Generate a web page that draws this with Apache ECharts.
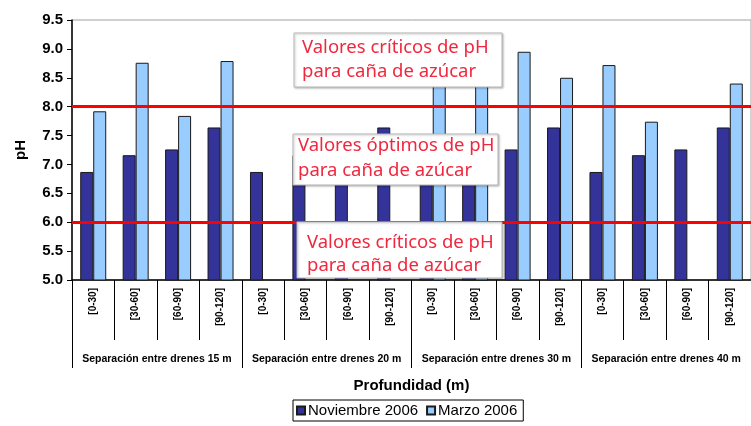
<!DOCTYPE html>
<html>
<head>
	<meta charset="utf-8">
	<title>pH</title>
	<style type="text/css">
		body{
			margin: 0px;
			background: #fff;
		}
		.chart{
			width: 751px;
			height: 426px;
		}
	</style>
	<script type="text/javascript" src="https://cdn.jsdelivr.net/npm/echarts@6/dist/echarts.min.js"></script>
</head>
<body>
	<div id="chart" class="chart"></div>
	<script type="text/javascript">
		var depths = ['[0-30]', '[30-60]', '[60-90]', '[90-120]',
			'[0-30]', '[30-60]', '[60-90]', '[90-120]',
			'[0-30]', '[30-60]', '[60-90]', '[90-120]',
			'[0-30]', '[30-60]', '[60-90]', '[90-120]'];
		var groups = ['Separación entre drenes 15 m', 'Separación entre drenes 20 m',
			'Separación entre drenes 30 m', 'Separación entre drenes 40 m'];
		var noviembre = [6.87, 7.16, 7.26, 7.64, 6.87, 7.16, 7.26, 7.64,
			6.87, 7.16, 7.26, 7.64, 6.87, 7.16, 7.26, 7.64];
		var marzo = [7.92, 8.76, 7.84, 8.79, null, null, null, null,
			8.5, 8.6, 8.95, 8.5, 8.72, 7.74, null, 8.4];
		var limits = [8.0, 6.0];
		var notes = ['Valores críticos de pH\npara caña de azúcar',
			'Valores óptimos de pH\npara caña de azúcar',
			'Valores críticos de pH\npara caña de azúcar'];

		var font = 'Liberation Sans, Arial, sans-serif';

		// cuadro de texto encima de las barras
		function noteBox(text, x, y, w, h, tx, ty, lh){
			return {
				type: 'group',
				z: 100,
				children: [{
					type: 'rect',
					z: 100,
					shape: {x: x, y: y, width: w, height: h},
					style: {
						fill: '#fff',
						stroke: '#b8b8b8',
						lineWidth: 1,
						shadowBlur: 2,
						shadowOffsetX: 1,
						shadowOffsetY: 1,
						shadowColor: 'rgba(0,0,0,0.25)'
					}
				}, {
					type: 'text',
					z: 101,
					style: {
						x: tx,
						y: ty,
						text: text,
						fill: '#f0283f',
						font: '18.5px "Noto Sans", sans-serif',
						lineHeight: lh,
						verticalAlign: 'top'
					}
				}]
			};
		}

		var chart = echarts.init(document.getElementById('chart'));
		chart.setOption({
			animation: false,
			backgroundColor: '#fff',
			color: ['#333399', '#99ccff'],
			grid: {
				left: 72,
				right: -10,
				top: 20,
				bottom: 146,
				show: true,
				borderColor: '#a0a0a0',
				borderWidth: 1
			},
			legend: {
				data: ['Noviembre 2006', 'Marzo 2006'],
				left: 293,
				top: 400,
				padding: [3, 6, 3, 3],
				itemGap: 8,
				itemWidth: 8,
				itemHeight: 8,
				borderColor: '#000',
				borderWidth: 1,
				icon: 'rect',
				textStyle: {
					fontFamily: font,
					fontSize: 15,
					color: '#000',
					padding: [0, 0, 0, -2]
				}
			},
			yAxis: {
				type: 'value',
				min: 5,
				max: 9.5,
				interval: 0.5,
				name: 'pH',
				nameLocation: 'middle',
				nameRotate: 90,
				nameGap: 44,
				nameTextStyle: {
					fontFamily: font,
					fontSize: 15,
					fontWeight: 'bold',
					color: '#000'
				},
				axisLine: {
					show: true,
					lineStyle: {color: '#000', width: 1.5}
				},
				axisTick: {
					show: true,
					length: 5,
					lineStyle: {color: '#000'}
				},
				axisLabel: {
					margin: 9,
					fontFamily: font,
					fontSize: 15,
					fontWeight: 'bold',
					color: '#000',
					formatter: function(v){
						return v.toFixed(1);
					}
				},
				splitLine: {show: false}
			},
			xAxis: [{
				type: 'category',
				data: depths,
				position: 'bottom',
				name: 'Profundidad (m)',
				nameLocation: 'middle',
				nameGap: 98,
				nameTextStyle: {
					fontFamily: font,
					fontSize: 15,
					fontWeight: 'bold',
					color: '#000'
				},
				axisLine: {
					lineStyle: {color: '#000', width: 1.5}
				},
				axisTick: {
					show: true,
					interval: 0,
					length: 60,
					lineStyle: {color: '#000'}
				},
				axisLabel: {
					interval: 0,
					rotate: 90,
					margin: 8,
					fontFamily: font,
					fontSize: 10,
					fontWeight: 'bold',
					color: '#000'
				}
			}, {
				type: 'category',
				data: groups,
				position: 'bottom',
				axisLine: {show: false},
				axisTick: {
					show: true,
					interval: 0,
					length: 88,
					lineStyle: {color: '#000'}
				},
				axisLabel: {
					interval: 0,
					margin: 74,
					fontFamily: font,
					fontSize: 10.5,
					fontWeight: 'bold',
					color: '#000'
				}
			}],
			series: [{
				name: 'Noviembre 2006',
				type: 'bar',
				data: noviembre,
				barWidth: 13,
				barGap: '0%',
				itemStyle: {
					borderColor: '#1a1a1a',
					borderWidth: 1
				},
				markLine: {
					silent: true,
					symbol: 'none',
					label: {show: false},
					lineStyle: {color: '#ff0000', width: 3, type: 'solid'},
					data: limits.map(function(v){ return {yAxis: v}; })
				}
			}, {
				name: 'Marzo 2006',
				type: 'bar',
				data: marzo,
				barWidth: 13,
				barGap: '0%',
				itemStyle: {
					borderColor: '#1a1a1a',
					borderWidth: 1
				}
			}],
			graphic: [
				noteBox(notes[0], 294, 33, 208, 54, 302, 36, 24),
				noteBox(notes[1], 293, 134, 205, 51, 298, 133, 25),
				noteBox(notes[2], 297, 222, 205, 56, 307, 231, 23)
			]
		});
	</script>
</body>
</html>
